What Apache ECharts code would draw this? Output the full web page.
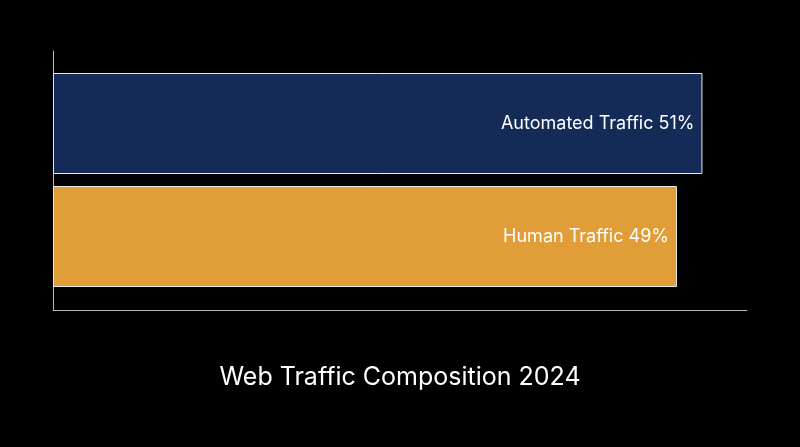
<!DOCTYPE html>
<html>
<head>
<meta charset="utf-8">
<script src="https://cdn.jsdelivr.net/npm/echarts@6/dist/echarts.min.js"></script>
<style>
  html, body { margin: 0; padding: 0; background: #000; }
  #chart { width: 800px; height: 447px; }
</style>
</head>
<body>
<div id="chart"></div>
<script>
// data
const categories = ['Human Traffic', 'Automated Traffic'];
const shares = [49, 51];
const barColors = ['#e09d38', '#142b57'];
const titleText = 'Web Traffic Composition 2024';

const chart = echarts.init(document.getElementById('chart'));

const FONT = 'Inter, "Liberation Sans", sans-serif';

const option = {
  backgroundColor: '#000',
  animation: false,
  title: {
    text: titleText,
    left: 'center',
    top: 360,
    textStyle: { color: '#fff', fontSize: 25, fontWeight: 'normal', fontFamily: FONT }
  },
  grid: [
    // frame with the axis lines
    { left: 53, right: 53, top: 51, bottom: 137 },
    // bars
    { left: 53, right: 53, top: 67, bottom: 154 }
  ],
  xAxis: [
    {
      gridIndex: 0, type: 'value', min: 0, max: 54.5,
      axisLine: { show: true, lineStyle: { color: '#bbb', width: 1 } },
      axisTick: { show: false }, axisLabel: { show: false }, splitLine: { show: false }
    },
    {
      gridIndex: 1, type: 'value', min: 0, max: 54.5,
      axisLine: { show: false }, axisTick: { show: false },
      axisLabel: { show: false }, splitLine: { show: false }
    }
  ],
  yAxis: [
    {
      gridIndex: 0, type: 'category', data: categories,
      axisLine: { show: true, lineStyle: { color: '#bbb', width: 1 } },
      axisTick: { show: false }, axisLabel: { show: false }
    },
    {
      gridIndex: 1, type: 'category', data: categories,
      axisLine: { show: false }, axisTick: { show: false }, axisLabel: { show: false }
    }
  ],
  series: [{
    type: 'bar',
    xAxisIndex: 1,
    yAxisIndex: 1,
    barWidth: 101,
    data: shares.map((v, i) => ({
      value: v,
      itemStyle: { color: barColors[i], borderColor: '#e8e8e8', borderWidth: 1 }
    })),
    label: {
      show: true,
      position: 'insideRight',
      distance: 8,
      color: '#fff',
      fontSize: 18,
      fontFamily: FONT,
      formatter: p => p.name + ' ' + p.value + '%'
    }
  }]
};

chart.setOption(option);
</script>
</body>
</html>
